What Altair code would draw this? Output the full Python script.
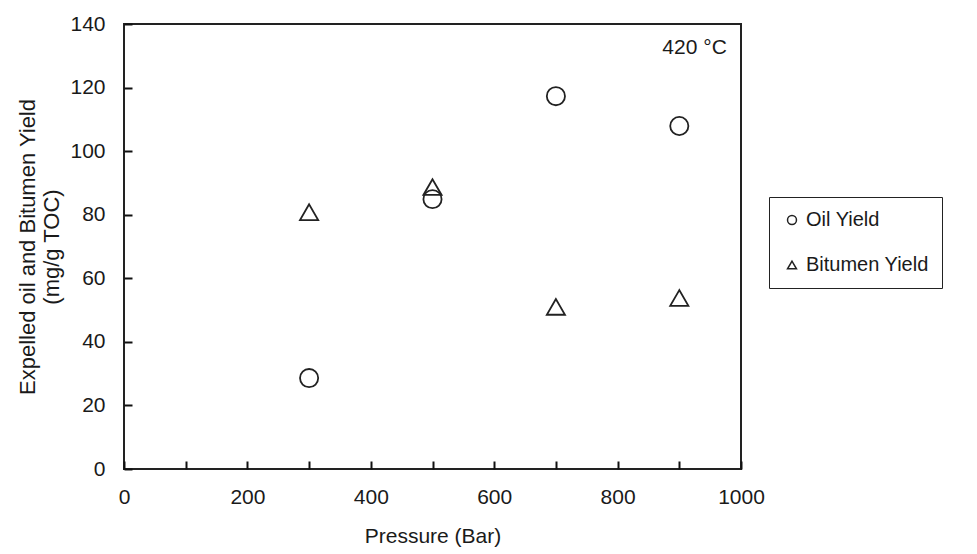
import altair as alt
import pandas as pd

pressure = [300, 500, 700, 900]
oil_yield = [28.6, 84.9, 117.3, 107.9]
bitumen_yield = [80.8, 88.7, 51.0, 53.8]
series_names = ["Oil Yield", "Bitumen Yield"]
y_ticks = list(range(0, 141, 10))
x_ticks = list(range(0, 1001, 100))

rows = []
for p, o in zip(pressure, oil_yield):
    rows.append({"Pressure": p, "Yield": o, "Series": series_names[0]})
for p, b in zip(pressure, bitumen_yield):
    rows.append({"Pressure": p, "Yield": b, "Series": series_names[1]})
df = pd.DataFrame(rows)

FONT = "Liberation Sans"
TXT = "#1a1a1a"
FS = 21

points = alt.Chart(df).mark_point(
    filled=False, size=330, strokeWidth=1.8, color="#222", opacity=1
).encode(
    x=alt.X("Pressure:Q",
            scale=alt.Scale(domain=[0, 1000], nice=False, zero=True),
            axis=alt.Axis(values=x_ticks, offset=-8, tickSize=8, tickWidth=2,
                          tickColor="#111", domain=False, grid=False,
                          format="d", labelFlush=False,
                          labelExpr="datum.value % 200 == 0 ? datum.label : ''",
                          labelPadding=17, labelFontSize=FS, labelFont=FONT,
                          labelColor=TXT, labelOverlap=False,
                          title="Pressure (Bar)", titleFontSize=FS,
                          titleFont=FONT, titleFontWeight="normal",
                          titleColor=TXT, titlePadding=18)),
    y=alt.Y("Yield:Q",
            scale=alt.Scale(domain=[0, 140], nice=False, zero=True),
            axis=alt.Axis(values=y_ticks, offset=-8, tickSize=8, tickWidth=2,
                          tickColor="#111", domain=False, grid=False,
                          labelFlush=False,
                          labelExpr="datum.value % 20 == 0 ? datum.label : ''",
                          labelPadding=19, labelFontSize=FS, labelFont=FONT,
                          labelColor=TXT, labelOverlap=False,
                          title=["Expelled oil and Bitumen Yield", "(mg/g TOC)"],
                          titleFontSize=22, titleFont=FONT,
                          titleFontWeight="normal", titleColor=TXT,
                          titlePadding=6, titleLineHeight=24)),
    shape=alt.Shape("Series:N",
                    scale=alt.Scale(domain=series_names,
                                    range=["circle", "triangle-up"]),
                    legend=alt.Legend(title=None, orient="none",
                                      legendX=645, legendY=173,
                                      strokeColor="#222", padding=13,
                                      rowPadding=25, symbolSize=80,
                                      symbolStrokeColor="#222",
                                      symbolFillColor="transparent",
                                      symbolStrokeWidth=1.5,
                                      labelFontSize=FS - 1, labelFont=FONT,
                                      labelColor=TXT, labelLimit=400)),
)

label_text = ["420 °C"]
label_df = pd.DataFrame({"x": [977], "y": [132.5], "t": label_text})
annot = alt.Chart(label_df).mark_text(
    align="right", baseline="middle", fontSize=FS, font=FONT, color=TXT
).encode(x="x:Q", y="y:Q", text="t:N")

chart = alt.layer(points, annot).properties(
    width=617, height=445,
    autosize=alt.AutoSizeParams(type="none"),
    padding={"left": 124, "top": 24, "right": 236, "bottom": 85},
    background="white",
).configure_view(stroke="#222", strokeWidth=2)

chart.save("out.html", embed_options={"renderer": "svg", "actions": False})
